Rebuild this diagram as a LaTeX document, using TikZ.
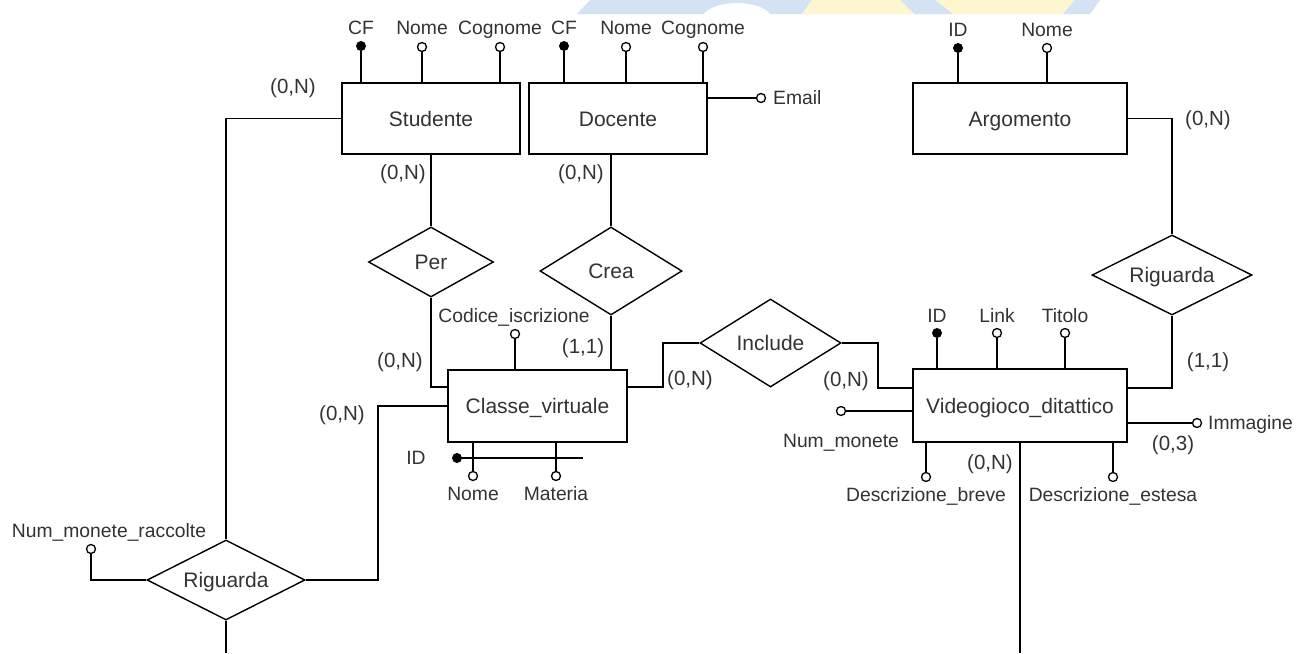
\documentclass[tikz,border=0pt]{standalone}
\usepackage{fontspec}
\setmainfont{Liberation Sans}
\usetikzlibrary{shapes.geometric,calc}
\definecolor{txt}{HTML}{333333}
\definecolor{wblue}{HTML}{D3E3F4}
\definecolor{wyel}{HTML}{FDF6CF}
\newcommand\fN{\fontsize{21}{24}\selectfont}
\newcommand\fA{\fontsize{19.3}{22}\selectfont}
\newcommand\fC{\fontsize{20.5}{24}\selectfont}
\tikzset{
  ln/.style={line width=1.6pt, draw=black},
  ent/.style={draw, line width=1.8pt, rectangle, inner sep=0pt, text=txt, font=\fN, text height=15pt, text depth=0pt},
  rel/.style={draw, line width=1.4pt, diamond, aspect=2, inner sep=0pt, text=txt, font=\fN, text height=15pt, text depth=0pt},
  lab/.style={inner sep=0pt, text=txt, font=\fA, text height=13.8pt, text depth=0pt},
  card/.style={inner sep=0pt, text=txt, font=\fC, text height=14.7pt, text depth=0pt},
  ao/.style={circle, draw, line width=1.3pt, fill=white, inner sep=0pt, minimum size=9pt},
  af/.style={circle, fill=black, inner sep=0pt, minimum size=10pt},
}
\begin{document}
\begin{tikzpicture}[x=1pt,y=-1pt]
\useasboundingbox[fill=white] (0,0) rectangle (1297,653);
% watermark
\fill[wblue] (577,14) -- (590,0) -- (812,0) -- (802,14) -- cycle;
\fill[white] (737,22) ellipse (37 and 19);
\fill[wyel] (802,14) -- (812,0) -- (1080,0) -- (1068,14) -- cycle;
\fill[wblue] (915,14) -- (953,14) -- (935,0) -- (900,0) -- cycle;
\fill[wblue] (1063,14) -- (1090,14) -- (1100,0) -- (1075,0) -- cycle;

% entities
\node[ent, minimum width=178pt, minimum height=71pt] (stud) at (431,118.5) {Studente};
\node[ent, minimum width=178.6pt, minimum height=71pt] (doc) at (618,118.5) {Docente};
\node[ent, minimum width=214pt, minimum height=71pt] (arg) at (1020,118.5) {Argomento};
\node[ent, minimum width=179pt, minimum height=72pt] (cls) at (537.5,406) {Classe\_virtuale};
\node[ent, minimum width=214pt, minimum height=73pt] (vid) at (1020,405.5) {Videogioco\_ditattico};

% relationships
\node[rel, minimum width=125pt, minimum height=70pt] (per) at (431,262) {Per};
\node[rel, minimum width=142pt, minimum height=88pt] (crea) at (611,271) {Crea};
\node[rel, minimum width=141pt, minimum height=88pt] (inc) at (770.5,343) {Include};
\node[rel, minimum width=160pt, minimum height=80pt] (rig2) at (1172,275) {Riguarda};
\node[rel, minimum width=158pt, minimum height=80pt] (rig1) at (226,580) {Riguarda};

% helper coordinates
\coordinate (k1) at (378,0);
\coordinate (k2) at (663,343);
\coordinate (k3) at (878,343);
\coordinate (b1) at (226,653);
\coordinate (b2) at (1020,653);

% connectors
\draw[ln] (stud.south) -- (per.north);
\draw[ln] (per.south) |- ([yshift=19pt]cls.west);
\draw[ln] ([xshift=-7pt]doc.south) -- (crea.north);
\draw[ln] (crea.south) -- (crea.south |- cls.north);
\draw[ln] (stud.west) -| (rig1.north);
\draw[ln] (rig1.east) -- (rig1.east -| k1) |- (cls.west);
\draw[ln] (rig1.south) -- (b1);
\draw[ln] ([yshift=19pt]cls.east) -| (k2) -- (inc.west);
\draw[ln] (inc.east) -- (k3) |- ([yshift=17.5pt]vid.west);
\draw[ln] ([yshift=17.5pt]vid.east) -| (rig2.south);
\draw[ln] (rig2.north) |- (arg.east);
\draw[ln] (vid.south) -- (b2);

% attributes: Studente
\node[af] (sCF) at (361,46) {};
\node[ao] (sNo) at (422,47) {};
\node[ao] (sCo) at (500,47) {};
\draw[ln] (sCF) -- (sCF |- stud.north);
\draw[ln] (sNo) -- (sNo |- stud.north);
\draw[ln] (sCo) -- (sCo |- stud.north);
\node[lab] (lsCF) at (361,28) {CF};
\node[lab] (lsNo) at (422,28) {Nome};
\node[lab] (lsCo) at (500,28) {Cognome};

% Docente
\node[af] (dCF) at (564,46) {};
\node[ao] (dNo) at (626,47) {};
\node[ao] (dCo) at (703,47) {};
\draw[ln] (dCF) -- (dCF |- doc.north);
\draw[ln] (dNo) -- (dNo |- doc.north);
\draw[ln] (dCo) -- (dCo |- doc.north);
\node[lab] (ldCF) at (564,28) {CF};
\node[lab] (ldNo) at (626,28) {Nome};
\node[lab] (ldCo) at (703,28) {Cognome};
\node[ao] (dEm) at (761,98) {};
\draw[ln] ([yshift=20.5pt]doc.east) -- (dEm);
\node[lab, anchor=west] (ldEm) at (773,98) {Email};

% Argomento
\node[af] (aID) at (958,48) {};
\node[ao] (aNo) at (1047,48) {};
\draw[ln] (aID) -- (aID |- arg.north);
\draw[ln] (aNo) -- (aNo |- arg.north);
\node[lab] (laID) at (958,30) {ID};
\node[lab] (laNo) at (1047,30) {Nome};

% Classe_virtuale
\node[ao] (cCod) at (515,334) {};
\draw[ln] (cCod) -- (cCod |- cls.north);
\node[lab] (lcCod) at (514,316) {Codice\_iscrizione};
\node[ao] (cNo) at (473,476) {};
\node[ao] (cMa) at (556,476) {};
\draw[ln] (cNo) -- (cNo |- cls.south);
\draw[ln] (cMa) -- (cMa |- cls.south);
\node[af] (cID) at (457,458) {};
\coordinate (cIDe) at (583,458);
\draw[ln] (cID.center) -- (cIDe);
\node[lab] (lcID) at (416,458) {ID};
\node[lab] (lcNo) at (473,494) {Nome};
\node[lab] (lcMa) at (556,494) {Materia};

% Videogioco_ditattico
\node[af] (vID) at (937,333) {};
\node[ao] (vLi) at (997,333) {};
\node[ao] (vTi) at (1065,333) {};
\draw[ln] (vID) -- (vID |- vid.north);
\draw[ln] (vLi) -- (vLi |- vid.north);
\draw[ln] (vTi) -- (vTi |- vid.north);
\node[lab] (lvID) at (937,316) {ID};
\node[lab] (lvLi) at (997,316) {Link};
\node[lab] (lvTi) at (1065,316) {Titolo};
\node[ao] (vNm) at (841,411) {};
\draw[ln] (vNm) -- (vNm -| vid.west);
\node[lab] (lvNm) at (841,441) {Num\_monete};
\node[ao] (vIm) at (1197,423) {};
\draw[ln] (vIm) -- (vIm -| vid.east);
\node[lab, anchor=west] (lvIm) at (1208,423) {Immagine};
\node[ao] (vDb) at (926,477) {};
\node[ao] (vDe) at (1113,477) {};
\draw[ln] (vDb) -- (vDb |- vid.south);
\draw[ln] (vDe) -- (vDe |- vid.south);
\node[lab] (lvDb) at (926,495) {Descrizione\_breve};
\node[lab] (lvDe) at (1113,495) {Descrizione\_estesa};

% Riguarda attribute
\node[ao] (rNm) at (91,549) {};
\draw[ln] (rNm) |- (rig1.west);
\node[lab] (lrNm) at (109,531) {Num\_monete\_raccolte};

% cardinalities
\node[card] (c1) at (293,86) {(0,N)};
\node[card] (c2) at (403,172) {(0,N)};
\node[card] (c3) at (581,172) {(0,N)};
\node[card] (c4) at (400,360) {(0,N)};
\node[card] (c5) at (583,346) {(1,1)};
\node[card] (c6) at (342,413) {(0,N)};
\node[card] (c7) at (690,378) {(0,N)};
\node[card] (c8) at (846,379) {(0,N)};
\node[card] (c9) at (1208,360) {(1,1)};
\node[card] (c10) at (1208,118) {(0,N)};
\node[card] (c11) at (1173,443) {(0,3)};
\node[card] (c12) at (990,462) {(0,N)};
\end{tikzpicture}
\end{document}
